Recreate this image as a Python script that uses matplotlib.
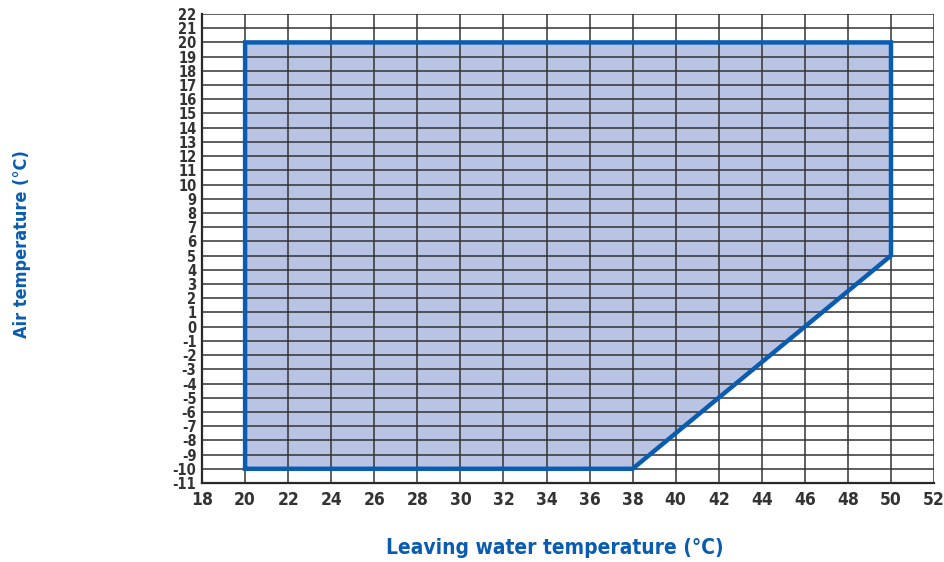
import matplotlib.pyplot as plt

# operating envelope corners (leaving water temp, air temp)
water_temp = [20, 38, 50, 50, 20]
air_temp = [-10, -10, 5, 20, 20]

x_ticks = list(range(18, 53, 2))
y_ticks = list(range(-11, 23, 1))

plt.rcParams['font.family'] = ['DejaVu Sans']
plt.rcParams['font.stretch'] = 'condensed'
plt.rcParams['axes.unicode_minus'] = False

fig = plt.figure(figsize=(9.45, 5.62), dpi=100)
ax = fig.add_axes([0.2138, 0.1406, 0.9884 - 0.2138, 0.9751 - 0.1406])

ax.fill(water_temp, air_temp, facecolor='#b9c4e4', edgecolor='none', zorder=1)
ax.set_xlim(18, 52)
ax.set_ylim(-11, 22)
ax.set_xticks(x_ticks)
ax.set_yticks(y_ticks)
ax.grid(True, color='#333333', linewidth=1.1, zorder=2)
ax.set_axisbelow(False)
ax.plot(water_temp + [water_temp[0]], air_temp + [air_temp[0]],
        color='#0a5cb0', linewidth=3.2, solid_joinstyle='miter', zorder=3)

for side in ['top', 'right']:
    ax.spines[side].set_visible(False)
for side in ['left', 'bottom']:
    ax.spines[side].set_color('#222222')
    ax.spines[side].set_linewidth(1.6)

ax.tick_params(axis='both', length=0, colors='#333333')
for lab in ax.get_yticklabels():
    lab.set_fontsize(10.5)
    lab.set_fontweight('bold')
    lab.set_fontstretch('condensed')
for lab in ax.get_xticklabels():
    lab.set_fontsize(12.5)
    lab.set_fontweight('bold')
    lab.set_fontstretch('condensed')
ax.tick_params(axis='x', pad=6)
ax.tick_params(axis='y', pad=4)

fig.text(0.0235, 0.566, 'Air temperature (°C)', rotation=90, ha='center', va='center',
         color='#0a5cb0', fontsize=13, fontweight='bold', fontstretch='condensed')
fig.text(0.587, 0.025, 'Leaving water temperature (°C)', ha='center', va='center',
         color='#0a5cb0', fontsize=15, fontweight='bold', fontstretch='condensed')

fig.savefig('out.png', dpi=100)
